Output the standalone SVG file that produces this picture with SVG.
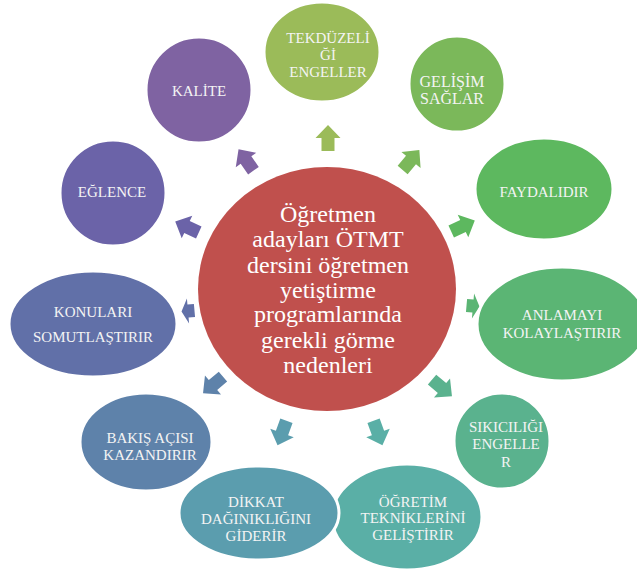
<svg xmlns="http://www.w3.org/2000/svg" width="637" height="575" viewBox="0 0 637 575">
<style>
.n{stroke:#fff;stroke-width:3}
.t{font-family:"Liberation Serif","Times New Roman",serif;font-size:15px;fill:#F4F4F4;text-anchor:middle}
.c{font-family:"Liberation Serif","Times New Roman",serif;font-size:24px;fill:#fff;text-anchor:middle}
</style>
<defs>
<path id="arr" d="M-13,-6.5 L0,-6.5 L0,-12.5 L13,0 L0,12.5 L0,6.5 L-13,6.5 Z"/>
</defs>
<rect width="637" height="575" fill="#fff"/>
<g id="connectors">
<use href="#arr" fill="#9BBB59" transform="translate(328,138) rotate(-90)"/>
<use href="#arr" fill="#7BB85A" transform="translate(411,160) rotate(-50)"/>
<use href="#arr" fill="#5DB85F" transform="translate(463,226) rotate(-25)"/>
<use href="#arr" fill="#5BB574" transform="translate(473,306) rotate(5) scale(0.5,1)"/>
<use href="#arr" fill="#5AB28E" transform="translate(442,388) rotate(40)"/>
<use href="#arr" fill="#5AAFA6" transform="translate(378,433) rotate(70)"/>
<use href="#arr" fill="#5B9DAE" transform="translate(282,433) rotate(110)"/>
<use href="#arr" fill="#5E82AA" transform="translate(213,385) rotate(140)"/>
<use href="#arr" fill="#6170A8" transform="translate(188,311) rotate(175) scale(0.5,1)"/>
<use href="#arr" fill="#6B63A8" transform="translate(187,227) rotate(-155)"/>
<use href="#arr" fill="#7F63A2" transform="translate(246,160) rotate(-125)"/>
</g>
<g id="center">
<ellipse cx="327" cy="289" rx="129" ry="122" fill="#C0504D"/>
<text class="c" x="328" y="222">Öğretmen</text>
<text class="c" x="328" y="247">adayları ÖTMT</text>
<text class="c" x="328" y="273">dersini öğretmen</text>
<text class="c" x="328" y="298">yetiştirme</text>
<text class="c" x="328" y="322">programlarında</text>
<text class="c" x="328" y="348">gerekli görme</text>
<text class="c" x="328" y="373">nedenleri</text>
</g>
<g id="ogretim">
<ellipse class="n" cx="407" cy="517" rx="75" ry="53" fill="#5AAFA6"/>
<text class="t" x="413" y="507">ÖĞRETİM</text>
<text class="t" x="413" y="523">TEKNİKLERİNİ</text>
<text class="t" x="413" y="540">GELİŞTİRİR</text>
</g>
<g id="dikkat">
<ellipse class="n" cx="259" cy="513" rx="80" ry="47" fill="#5B9DAE"/>
<text class="t" x="256" y="507">DİKKAT</text>
<text class="t" x="256" y="524">DAĞINIKLIĞINI</text>
<text class="t" x="256" y="541">GİDERİR</text>
</g>
<g id="bakis">
<ellipse class="n" cx="146" cy="442" rx="66" ry="49" fill="#5E82AA"/>
<text class="t" x="150" y="443">BAKIŞ AÇISI</text>
<text class="t" x="150" y="460">KAZANDIRIR</text>
</g>
<g id="sikiciligi">
<ellipse class="n" cx="502" cy="441" rx="48" ry="48" fill="#5AB28E"/>
<text class="t" x="506" y="432">SIKICILIĞI</text>
<text class="t" x="506" y="449">ENGELLE</text>
<text class="t" x="506" y="467">R</text>
</g>
<g id="anlamayi">
<ellipse class="n" cx="562" cy="324" rx="85" ry="57" fill="#5BB574"/>
<text class="t" x="562" y="320">ANLAMAYI</text>
<text class="t" x="562" y="338">KOLAYLAŞTIRIR</text>
</g>
<g id="konulari">
<ellipse class="n" cx="93" cy="324" rx="84" ry="53" fill="#6170A8"/>
<text class="t" x="93" y="317">KONULARI</text>
<text class="t" x="93" y="342">SOMUTLAŞTIRIR</text>
</g>
<g id="faydalidir">
<ellipse class="n" cx="544" cy="189" rx="69" ry="51" fill="#5DB85F"/>
<text class="t" x="544" y="197">FAYDALIDIR</text>
</g>
<g id="eglence">
<ellipse class="n" cx="113" cy="193" rx="53" ry="53" fill="#6B63A8"/>
<text class="t" x="112" y="197">EĞLENCE</text>
</g>
<g id="kalite">
<ellipse class="n" cx="199" cy="90" rx="53" ry="53" fill="#7F63A2"/>
<text class="t" x="199" y="96">KALİTE</text>
</g>
<g id="gelisim">
<ellipse class="n" cx="457" cy="84" rx="48" ry="48" fill="#7BB85A"/>
<text class="t" x="452" y="87" style="font-size:16px">GELİŞİM</text>
<text class="t" x="452" y="104" style="font-size:16px">SAĞLAR</text>
</g>
<g id="tekduzeligi">
<ellipse class="n" cx="322" cy="52" rx="58" ry="50" fill="#9BBB59"/>
<text class="t" x="328" y="43">TEKDÜZELİ</text>
<text class="t" x="328" y="60">Ğİ</text>
<text class="t" x="328" y="77">ENGELLER</text>
</g>
</svg>
